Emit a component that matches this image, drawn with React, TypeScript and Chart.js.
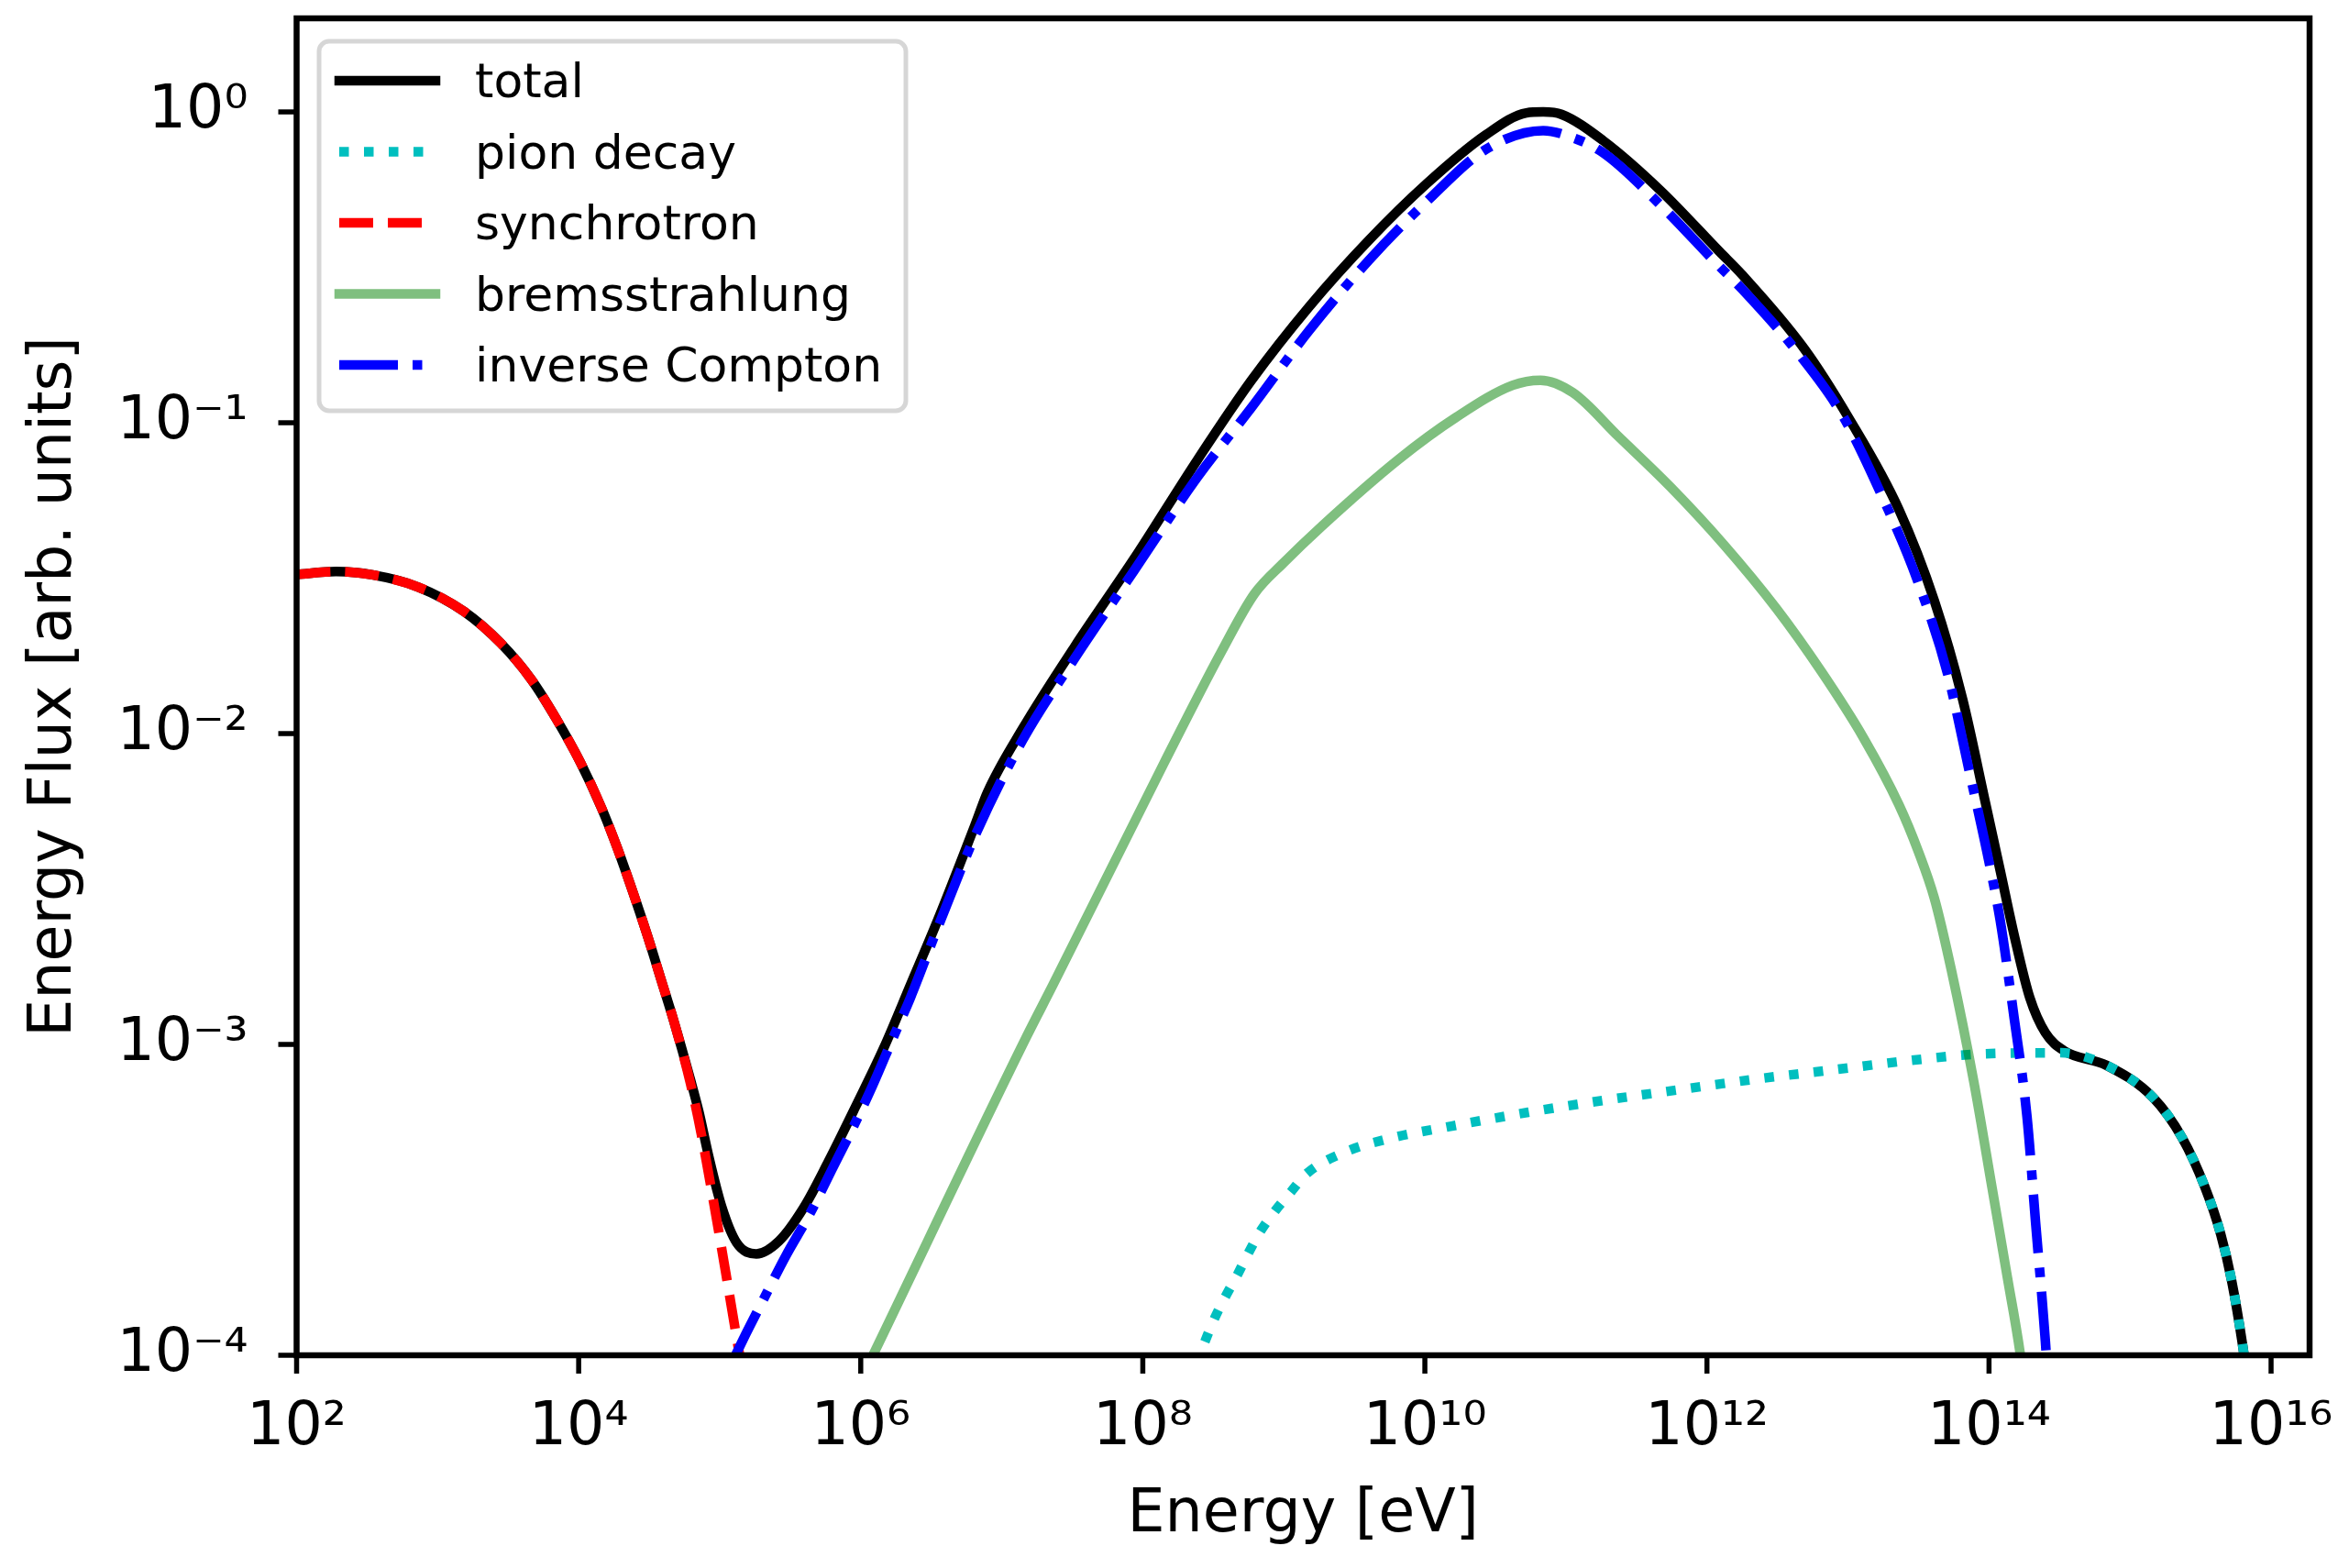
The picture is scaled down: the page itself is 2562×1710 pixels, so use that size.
import React, { useEffect, useRef } from "react";
import { Chart, registerables } from "chart.js";

Chart.register(...registerables);

// values
const seriesNames = ["total", "pion decay", "synchrotron", "bremsstrahlung", "inverse Compton"];

const energyTotal = [
  1e2, 1.9e2, 3.45e2, 7.3e2, 1.54e3, 2.81e3, 4.63e3, 6.9e3, 1.03e4, 1.46e4, 1.87e4, 2.4e4, 3.08e4,
  3.95e4, 4.7e4, 6.2e4, 7.1e4, 8.4e4, 1.03e5, 1.32e5, 1.82e5, 2.63e5, 3.95e5, 5.9e5, 9.2e5, 1.45e6,
  2.26e6, 3.55e6, 6.6e6, 7.9e6, 1.41e7, 3.3e7, 8.7e7, 2.45e8, 5.9e8, 1.51e9, 4.0e9, 1.02e10, 2.7e10,
  5.25e10, 6.9e10, 9.3e10, 1.82e11, 4.7e11, 1.23e12, 1.78e12, 4.9e12, 1.02e13, 2.3e13, 4.1e13,
  6.5e13, 9.5e13, 1.2e14, 1.51e14, 1.95e14, 2.51e14, 3.4e14, 6.8e14, 1.45e15, 2.34e15, 3.4e15,
  4.4e15, 5.25e15, 6.3e15, 6.9e15,
];
const fluxTotal = [
  3.25e-2, 3.32e-2, 3.24e-2, 2.96e-2, 2.47e-2, 1.95e-2, 1.49e-2, 1.12e-2, 8.07e-3, 5.73e-3, 4.31e-3,
  3.13e-3, 2.23e-3, 1.55e-3, 1.2e-3, 7.7e-4, 6.1e-4, 4.32e-4, 3.02e-4, 2.3e-4, 2.12e-4, 2.33e-4,
  2.99e-4, 4.2e-4, 6.31e-4, 9.7e-4, 1.56e-3, 2.54e-3, 5.21e-3, 6.46e-3, 1.04e-2, 1.91e-2, 3.66e-2,
  7.62e-2, 0.137, 0.236, 0.386, 0.585, 0.843, 0.993, 1.0, 0.982, 0.811, 0.558, 0.355, 0.299, 0.173,
  0.103, 5.25e-2, 2.67e-2, 1.29e-2, 5.9e-3, 3.63e-3, 2.24e-3, 1.41e-3, 1.09e-3, 9.55e-4, 8.57e-4,
  6.76e-4, 5.01e-4, 3.47e-4, 2.45e-4, 1.74e-4, 1.07e-4, 7.9e-5,
];

const energyPion = [
  2.4e8, 2.7e8, 3.24e8, 3.9e8, 4.7e8, 5.6e8, 6.8e8, 8.7e8, 1.12e9, 1.45e9, 2.7e9, 5.6e9, 1.55e10,
  5.4e10, 1.86e11, 6.5e11, 2.24e12, 7.8e12, 2.7e13, 9.3e13, 3.24e14, 6.8e14, 1.45e15, 2.34e15,
  3.4e15, 4.4e15, 5.25e15, 6.3e15, 6.9e15,
];
const fluxPion = [
  9.3e-5, 1.08e-4, 1.32e-4, 1.56e-4, 1.82e-4, 2.13e-4, 2.5e-4, 2.92e-4, 3.35e-4, 3.84e-4, 4.5e-4,
  4.98e-4, 5.46e-4, 6.05e-4, 6.61e-4, 7.16e-4, 7.74e-4, 8.28e-4, 8.87e-4, 9.33e-4, 9.4e-4, 8.57e-4,
  6.76e-4, 5.01e-4, 3.47e-4, 2.45e-4, 1.74e-4, 1.07e-4, 7.9e-5,
];

const energySync = [
  1e2, 1.9e2, 3.45e2, 7.3e2, 1.54e3, 2.81e3, 4.63e3, 6.9e3, 1.03e4, 1.46e4, 1.87e4, 2.4e4, 3.08e4,
  3.95e4, 4.7e4, 6.2e4, 7.4e4, 9e4, 1.1e5, 1.35e5, 1.6e5,
];
const fluxSync = [
  3.25e-2, 3.32e-2, 3.24e-2, 2.96e-2, 2.47e-2, 1.95e-2, 1.49e-2, 1.12e-2, 8.07e-3, 5.73e-3, 4.31e-3,
  3.13e-3, 2.23e-3, 1.55e-3, 1.2e-3, 7.5e-4, 5.16e-4, 3.16e-4, 1.86e-4, 1.07e-4, 6.9e-5,
];

const energyBrems = [
  1.0e6, 1.22e6, 1.5e7, 2.3e7, 1.41e8, 3.6e8, 6.2e8, 1.0e9, 1.86e9, 6.5e9, 1.66e10, 4.2e10, 6.6e10,
  1.12e11, 2.34e11, 5.5e11, 1.32e12, 3.1e12, 6.5e12, 1.29e13, 2.3e13, 3.16e13, 4.1e13, 5.4e13,
  7.8e13, 1.05e14, 1.35e14, 1.66e14, 1.78e14,
];
const fluxBrems = [
  8.3e-5, 1.0e-4, 1.06e-3, 1.55e-3, 8.02e-3, 1.83e-2, 2.82e-2, 3.55e-2, 4.65e-2, 7.62e-2, 0.104, 0.132,
  0.137, 0.125, 9.06e-2, 6.22e-2, 4.05e-2, 2.53e-2, 1.58e-2, 9.68e-3, 5.9e-3, 4.17e-3, 2.95e-3,
  1.74e-3, 7.59e-4, 3.47e-4, 1.78e-4, 1.02e-4, 7.9e-5,
];

const energyIC = [
  1.2e5, 1.46e5, 2.07e5, 2.93e5, 4.37e5, 6.2e5, 8.8e5, 1.22e6, 1.68e6, 2.26e6, 3.47e6, 6.6e6, 1.41e7,
  3.3e7, 8.7e7, 2.45e8, 5.9e8, 1.51e9, 4.0e9, 1.02e10, 2.7e10, 6.9e10, 1.0e11, 1.82e11, 4.7e11,
  1.23e12, 1.78e12, 4.6e12, 9.1e12, 1.74e13, 3.1e13, 5.1e13, 7.2e13, 1.02e14, 1.2e14, 1.51e14,
  1.86e14, 2.14e14, 2.51e14, 2.63e14,
];
const fluxIC = [
  9.3e-5, 1.12e-4, 1.53e-4, 2.08e-4, 2.86e-4, 3.93e-4, 5.4e-4, 7.41e-4, 1.04e-3, 1.42e-3, 2.34e-3,
  4.79e-3, 9.55e-3, 1.75e-2, 3.35e-2, 6.7e-2, 0.112, 0.198, 0.333, 0.513, 0.757, 0.871, 0.841, 0.741,
  0.501, 0.318, 0.269, 0.164, 0.106, 5.82e-2, 3.12e-2, 1.55e-2, 7.67e-3, 3.7e-3, 2.51e-3, 1.21e-3,
  5.85e-4, 2.67e-4, 1.11e-4, 7.9e-5,
];

const xTickValues = [1e2, 1e4, 1e6, 1e8, 1e10, 1e12, 1e14, 1e16];
const xTickLabels = ["10²", "10⁴", "10⁶", "10⁸", "10¹⁰", "10¹²", "10¹⁴", "10¹⁶"];
const yMajorTicks = [1e-4, 1e-3, 1e-2, 1e-1, 1];
const yTickLabels = ["10⁻⁴", "10⁻³", "10⁻²", "10⁻¹", "10⁰"];
const minorMantissas = [2, 3, 4, 5, 6, 7, 8, 9];

const FONT = "DejaVu Sans";
const LW = 10.5;

const pts = (xs: number[], ys: number[]) => xs.map((x, i) => ({ x, y: ys[i] }));

const yMinorTicks: number[] = [];
yMajorTicks.slice(0, -1).forEach((d) => minorMantissas.forEach((m) => yMinorTicks.push(m * d)));

const frameLegendPlugin = {
  id: "frameLegend",
  afterDatasetsDraw(chart: any) {
    const { ctx, chartArea: a, scales } = chart;
    ctx.save();
    ctx.strokeStyle = "#000";
    ctx.lineCap = "butt";
    ctx.setLineDash([]);

    // tick marks
    ctx.lineWidth = 5.5;
    scales.x.ticks.forEach((t: any) => {
      const px = scales.x.getPixelForValue(t.value);
      ctx.beginPath();
      ctx.moveTo(px, a.bottom);
      ctx.lineTo(px, a.bottom + 20);
      ctx.stroke();
    });
    scales.y.ticks.forEach((t: any) => {
      const major = yMajorTicks.includes(t.value);
      const py = scales.y.getPixelForValue(t.value);
      ctx.lineWidth = major ? 5.5 : 4;
      ctx.beginPath();
      ctx.moveTo(a.left, py);
      ctx.lineTo(a.left - (major ? 20 : 11), py);
      ctx.stroke();
    });

    // frame
    ctx.lineWidth = 6.5;
    ctx.lineJoin = "miter";
    ctx.strokeRect(a.left, a.top, a.right - a.left, a.bottom - a.top);

    // legend
    const bx = a.left + 24.5;
    const by = a.top + 25;
    ctx.beginPath();
    ctx.roundRect(bx, by, 640, 403, 11);
    ctx.fillStyle = "rgba(255,255,255,0.8)";
    ctx.fill();
    ctx.lineWidth = 5;
    ctx.strokeStyle = "rgba(204,204,204,0.8)";
    ctx.stroke();

    ctx.font = `52px "${FONT}"`;
    ctx.textBaseline = "alphabetic";
    ctx.textAlign = "left";
    chart.data.datasets.forEach((ds: any, i: number) => {
      const cy = by + 43 + i * 77.5;
      const dash = ds.borderDash || [];
      ctx.setLineDash(dash);
      ctx.lineCap = dash.length ? "butt" : "square";
      ctx.strokeStyle = ds.borderColor;
      ctx.lineWidth = LW;
      ctx.beginPath();
      ctx.moveTo(bx + 22, cy);
      ctx.lineTo(bx + 127, cy);
      ctx.stroke();
      ctx.setLineDash([]);
      ctx.fillStyle = "#000";
      ctx.fillText(ds.label, bx + 170, cy + 18.3);
    });
    ctx.restore();
  },
};

export default function App() {
  const canvasRef = useRef<HTMLCanvasElement | null>(null);
  const chartRef = useRef<Chart | null>(null);

  useEffect(() => {
    document.body.style.margin = "0";
    document.body.style.overflow = "hidden";
    const ctx = canvasRef.current?.getContext("2d");
    if (!ctx) return;
    if (chartRef.current) chartRef.current.destroy();

    const common = {
      pointRadius: 0,
      borderWidth: LW,
      fill: false,
      clip: 0,
      cubicInterpolationMode: "monotone",
      borderJoinStyle: "round",
    };

    chartRef.current = new Chart(ctx, {
      type: "line",
      data: {
        datasets: [
          { ...common, label: seriesNames[0], data: pts(energyTotal, fluxTotal), borderColor: "#000000", order: 5 },
          { ...common, label: seriesNames[1], data: pts(energyPion, fluxPion), borderColor: "#00bfbf", borderDash: [10.5, 16.5], order: 4 },
          { ...common, label: seriesNames[2], data: pts(energySync, fluxSync), borderColor: "#ff0000", borderDash: [37, 16], order: 3 },
          { ...common, label: seriesNames[3], data: pts(energyBrems, fluxBrems), borderColor: "rgba(0,128,0,0.5)", order: 2 },
          { ...common, label: seriesNames[4], data: pts(energyIC, fluxIC), borderColor: "#0000ff", borderDash: [64, 16, 10.5, 16], order: 1 },
        ] as any,
      },
      options: {
        animation: false,
        responsive: false,
        layout: { padding: { top: 20, right: 43, left: 0, bottom: 0 } },
        plugins: { legend: { display: false }, tooltip: { enabled: false } },
        scales: {
          x: {
            type: "logarithmic",
            min: 1e2,
            max: 1.875e16,
            bounds: "data",
            afterBuildTicks: (scale: any) => {
              scale.ticks = xTickValues.map((value) => ({ value }));
            },
            afterFit: (scale: any) => {
              scale.height = 232;
              scale.paddingLeft = 0;
              scale.paddingRight = 0;
            },
            grid: { display: false, drawTicks: false },
            border: { display: false },
            ticks: {
              autoSkip: false,
              maxRotation: 0,
              minRotation: 0,
              padding: 41,
              color: "#000",
              font: { family: FONT, size: 65 },
              callback: (value: any) => {
                const i = xTickValues.indexOf(value);
                return i >= 0 ? xTickLabels[i] : null;
              },
            },
            title: {
              display: true,
              text: "Energy [eV]",
              color: "#000",
              font: { family: FONT, size: 65 },
              padding: { top: 0, bottom: 18 },
            },
          },
          y: {
            type: "logarithmic",
            min: 1e-4,
            max: 2,
            bounds: "data",
            afterBuildTicks: (scale: any) => {
              scale.ticks = [...yMajorTicks, ...yMinorTicks].sort((p, q) => p - q).map((value) => ({ value }));
            },
            afterFit: (scale: any) => {
              scale.width = 323.5;
              scale.paddingTop = 0;
              scale.paddingBottom = 0;
            },
            grid: { display: false, drawTicks: false },
            border: { display: false },
            ticks: {
              autoSkip: false,
              padding: 53,
              color: "#000",
              font: { family: FONT, size: 65 },
              callback: (value: any) => {
                const i = yMajorTicks.indexOf(value);
                return i >= 0 ? yTickLabels[i] : null;
              },
            },
            title: {
              display: true,
              text: "Energy Flux [arb. units]",
              color: "#000",
              font: { family: FONT, size: 65 },
              padding: { top: 21, bottom: 0 },
            },
          },
        },
      } as any,
      plugins: [frameLegendPlugin],
    });

    return () => {
      if (chartRef.current) {
        chartRef.current.destroy();
        chartRef.current = null;
      }
    };
  }, []);

  return (
    <div style={{ width: 2562, height: 1710 }}>
      <canvas ref={canvasRef} width={2562} height={1710} style={{ display: "block" }} />
    </div>
  );
}
